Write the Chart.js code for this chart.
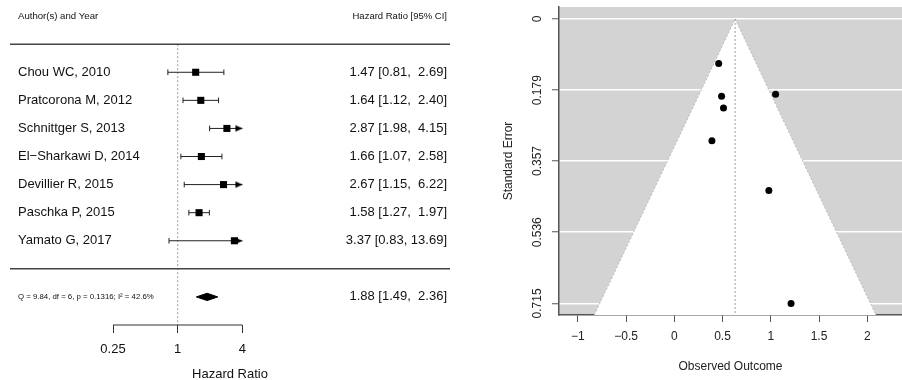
<!DOCTYPE html>
<html>
<head>
<meta charset="utf-8">
<script src="https://cdn.jsdelivr.net/npm/chart.js@4.4.1/dist/chart.umd.min.js"></script>
<style>
  html, body { margin: 0; padding: 0; background: #fff; }
  #wrap { position: relative; width: 902px; height: 380px; overflow: hidden; }
  #forest { position: absolute; left: 0; top: 0; }
  #funnel { position: absolute; left: 450px; top: 0; }
</style>
</head>
<body>
<div id="wrap">
  <canvas id="forest" width="450" height="380"></canvas>
  <canvas id="funnel" width="452" height="380"></canvas>
</div>
<script>
// ---- forest plot data ----
const studies = ['Chou WC, 2010', 'Pratcorona M, 2012', 'Schnittger S, 2013', 'El\u2212Sharkawi D, 2014',
                 'Devillier R, 2015', 'Paschka P, 2015', 'Yamato G, 2017'];
const hr = [1.47, 1.64, 2.87, 1.66, 2.67, 1.58, 3.37];
const ciLow = [0.81, 1.12, 1.98, 1.07, 1.15, 1.27, 0.83];
const ciHigh = [2.69, 2.40, 4.15, 2.58, 6.22, 1.97, 13.69];
const ciText = ['1.47 [0.81,  2.69]', '1.64 [1.12,  2.40]', '2.87 [1.98,  4.15]', '1.66 [1.07,  2.58]',
                '2.67 [1.15,  6.22]', '1.58 [1.27,  1.97]', '3.37 [0.83, 13.69]'];
const pooledHr = 1.88;
const pooledLow = 1.49;
const pooledHigh = 2.36;
const pooledText = '1.88 [1.49,  2.36]';
const hetText = 'Q = 9.84, df = 6, p = 0.1316; I\u00b2 = 42.6%';
const hrTicks = [0.25, 1, 4];
const hrTickLabels = ['0.25', '1', '4'];

// ---- funnel plot data ----
const outcome = [0.39, 0.49, 1.05, 0.51, 0.98, 0.46, 1.21];
const stdErr = [0.306, 0.194, 0.189, 0.224, 0.431, 0.112, 0.715];
const pooledLog = 0.63;
const funnelEdgeX = [-0.83, 0.63, 2.09];
const funnelEdgeSE = [0.744, 0, 0.744];
const seTicks = [0, 0.179, 0.357, 0.536, 0.715];
const seTickLabels = ['0', '0.179', '0.357', '0.536', '0.715'];
const outcomeTicks = [-1, -0.5, 0, 0.5, 1, 1.5, 2];
const outcomeTickLabels = ['\u22121', '\u22120.5', '0', '0.5', '1', '1.5', '2'];

const FONT = '"Liberation Sans", Arial, sans-serif';
const INK = '#111';

// rows: studies k..1, header k+2, lines at k+1 and 0, pooled at -1, axis at -2
const k = studies.length;
const rows = studies.map((s, i) => k - i);
const headerRow = k + 2;
const pooledRow = -1;
const axisRow = -2;
const alimHigh = 4;   // CI beyond this gets an arrow
const xMin = 0.0275, xMax = 342;

const ciLines = [];
const caps = [];
const arrows = [];
rows.forEach((r, i) => {
  const hi = Math.min(ciHigh[i], alimHigh);
  ciLines.push({x: ciLow[i], y: r}, {x: hi, y: r}, {x: ciLow[i], y: null});
  caps.push({x: ciLow[i], y: r});
  if (ciHigh[i] <= alimHigh) caps.push({x: ciHigh[i], y: r});
  else arrows.push({x: alimHigh, y: r});
});
const squares = rows.map((r, i) => ({x: hr[i], y: r}));
const dh = 0.13;
const diamond = [
  {x: pooledLow, y: pooledRow}, {x: pooledHr, y: pooledRow + dh},
  {x: pooledHigh, y: pooledRow}, {x: pooledHr, y: pooledRow - dh}, {x: pooledLow, y: pooledRow}
];

// arrow head: tip sits at the image centre so it ends exactly on the limit
function arrowHead() {
  const c = document.createElement('canvas');
  c.width = 16; c.height = 8;
  const g = c.getContext('2d');
  g.fillStyle = '#000';
  g.beginPath(); g.moveTo(1, 0.8); g.lineTo(8, 4); g.lineTo(1, 7.2); g.closePath(); g.fill();
  return c;
}

const leftRows = [pooledRow].concat(rows.slice().reverse(), [headerRow]);
const leftLabels = [hetText].concat(studies.slice().reverse(), ['Author(s) and Year']);
const leftSizes = [7.8].concat(studies.map(() => 13), [9.6]);
const rightLabels = [pooledText].concat(ciText.slice().reverse(), ['Hazard Ratio [95% CI]']);
const rightSizes = [13].concat(ciText.map(() => 13), [9.5]);

const lineDs = (data, color, width, extra) => Object.assign({
  type: 'line', data, borderColor: color, borderWidth: width, pointRadius: 0, fill: false
}, extra || {});

new Chart(document.getElementById('forest'), {
  type: 'scatter',
  data: {
    datasets: [
      {data: squares, pointStyle: 'rect', pointRadius: 5, backgroundColor: '#000', borderWidth: 0},
      {data: arrows, pointStyle: arrowHead(), pointRadius: 4},
      {data: caps, pointStyle: 'line', rotation: 90, pointRadius: 2.8, borderColor: '#222', borderWidth: 1},
      lineDs(ciLines, '#222', 1),
      lineDs(diamond, '#000', 1, {fill: 'shape', backgroundColor: '#000'}),
      lineDs([{x: hrTicks[0], y: axisRow}, {x: hrTicks[hrTicks.length - 1], y: axisRow}], '#333', 1, {clip: false}),
      lineDs([{x: xMin, y: k + 1}, {x: xMax, y: k + 1}], '#444', 1.5),
      lineDs([{x: xMin, y: 0}, {x: xMax, y: 0}], '#444', 1.5),
      lineDs([{x: 1, y: k + 1}, {x: 1, y: axisRow}], '#999', 1, {borderDash: [2, 2]})
    ]
  },
  options: {
    responsive: false,
    devicePixelRatio: 1,
    animation: false,
    layout: {autoPadding: false, padding: {left: 10, right: 0, top: 14, bottom: 0}},
    plugins: {legend: {display: false}, tooltip: {enabled: false}},
    scales: {
      x: {
        type: 'logarithmic', min: xMin, max: xMax, bounds: 'data',
        afterBuildTicks: s => { s.ticks = hrTicks.map(v => ({value: v})); },
        afterFit: s => { s.height = 55; },
        grid: {display: true, drawOnChartArea: false, drawTicks: true, tickLength: 8, color: '#333', lineWidth: 1},
        border: {display: false},
        ticks: {callback: (v, i) => hrTickLabels[i], padding: 9, autoSkip: false, maxRotation: 0,
                font: {family: FONT, size: 13}, color: INK},
        title: {display: true, text: 'Hazard Ratio', font: {family: FONT, size: 13, lineHeight: 0.85},
                color: INK, padding: {top: 0, bottom: 0}}
      },
      y: {
        type: 'linear', position: 'left', min: axisRow, max: 9.075,
        afterBuildTicks: s => { s.ticks = leftRows.map(v => ({value: v})); },
        afterFit: s => { s.width = 0; },
        grid: {display: false}, border: {display: false},
        ticks: {mirror: true, padding: 8, autoSkip: false, color: INK,
                callback: (v, i) => leftLabels[i],
                font: ctx => ({family: FONT, size: leftSizes[ctx.index] || 13})}
      },
      y2: {
        type: 'linear', position: 'right', min: axisRow, max: 9.075,
        afterBuildTicks: s => { s.ticks = leftRows.map(v => ({value: v})); },
        afterFit: s => { s.width = 0; },
        grid: {display: false}, border: {display: false},
        ticks: {mirror: true, padding: -3, autoSkip: false, color: INK,
                callback: (v, i) => rightLabels[i],
                font: ctx => ({family: FONT, size: rightSizes[ctx.index] || 13})}
      }
    }
  }
});

// ---- funnel ----
const funnelBg = {
  id: 'funnelBg',
  beforeDraw(chart) {
    const {ctx, chartArea: a} = chart;
    ctx.save();
    ctx.fillStyle = '#d3d3d3';
    ctx.fillRect(a.left, a.top, a.right - a.left, a.bottom - a.top);
    ctx.restore();
  }
};
const seLabels = {
  id: 'seLabels',
  afterDraw(chart) {
    const s = chart.scales.y;
    const ctx = chart.ctx;
    ctx.save();
    ctx.font = '12px ' + FONT;
    ctx.fillStyle = '#222';
    ctx.textAlign = 'center';
    ctx.textBaseline = 'middle';
    s.ticks.forEach((t, i) => {
      ctx.save();
      ctx.translate(s.right - 21, s.getPixelForValue(t.value));
      ctx.rotate(-Math.PI / 2);
      ctx.fillText(seTickLabels[i], 0, 0);
      ctx.restore();
    });
    ctx.restore();
  }
};

new Chart(document.getElementById('funnel'), {
  type: 'scatter',
  data: {
    datasets: [
      {data: outcome.map((v, i) => ({x: v, y: stdErr[i]})), pointStyle: 'circle', pointRadius: 3.5,
       backgroundColor: '#000', borderWidth: 0, order: 0},
      lineDs([{x: pooledLog, y: 0}, {x: pooledLog, y: funnelEdgeSE[0]}], '#999', 1, {borderDash: [2, 2], order: 1}),
      lineDs(funnelEdgeX.map((x, i) => ({x, y: funnelEdgeSE[i]})), '#bbb', 1,
             {fill: 'shape', backgroundColor: '#fff', borderDash: [2, 2], order: 2})
    ]
  },
  options: {
    responsive: false,
    devicePixelRatio: 1,
    animation: false,
    layout: {autoPadding: false, padding: {left: 47, right: 0, top: 7, bottom: 0}},
    plugins: {legend: {display: false}, tooltip: {enabled: false}},
    scales: {
      x: {
        type: 'linear', min: -1.195, max: 2.36, z: 1,
        afterBuildTicks: s => { s.ticks = outcomeTicks.map(v => ({value: v})); },
        afterFit: s => { s.height = 65; },
        grid: {drawOnChartArea: false, drawTicks: true, tickLength: 7, color: '#555', lineWidth: 1},
        border: {display: true, color: '#555', width: 1.5},
        ticks: {callback: (v, i) => outcomeTickLabels[i], padding: 7.5, autoSkip: false, maxRotation: 0,
                font: {family: FONT, size: 12}, color: '#222'},
        title: {display: true, text: 'Observed Outcome', font: {family: FONT, size: 12}, color: '#222',
                padding: {top: 0, bottom: 6}}
      },
      y: {
        type: 'linear', reverse: true, min: -0.03, max: 0.744,
        afterBuildTicks: s => { s.ticks = seTicks.map(v => ({value: v})); },
        afterFit: s => { s.width = 62; },
        grid: {color: '#fff', lineWidth: 1.5, drawTicks: true, tickLength: 7, tickColor: '#555', tickWidth: 1},
        border: {display: true, color: '#555', width: 1.5},
        ticks: {display: false},
        title: {display: true, text: 'Standard Error', font: {family: FONT, size: 12}, color: '#222',
                padding: {top: 4, bottom: 0}}
      }
    }
  },
  plugins: [funnelBg, seLabels]
});
</script>
</body>
</html>
